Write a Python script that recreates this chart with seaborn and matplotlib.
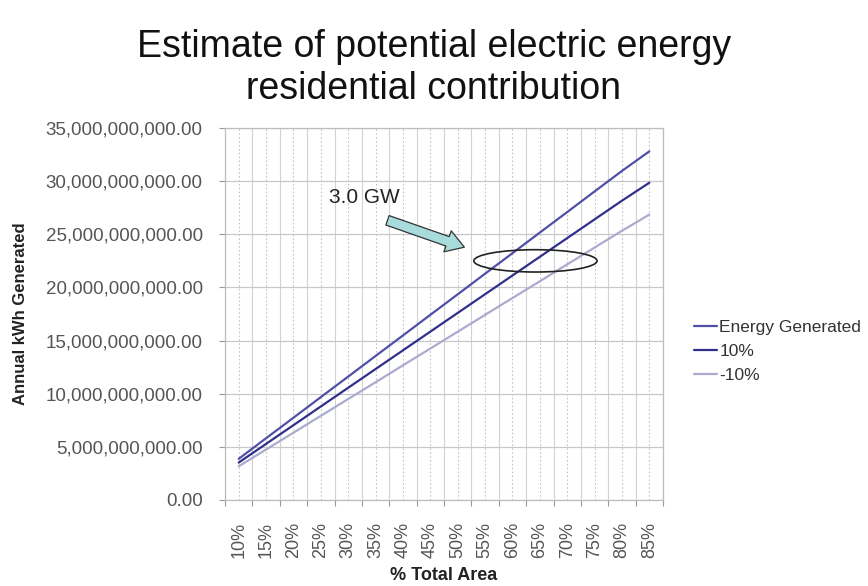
import matplotlib
matplotlib.use("Agg")
import matplotlib.pyplot as plt
import matplotlib.patches as mpatches
from matplotlib.ticker import FuncFormatter, MultipleLocator, FixedLocator
import numpy as np
import pandas as pd
import seaborn as sns

# Share of total roof area used
area_labels = ["10%", "15%", "20%", "25%", "30%", "35%", "40%", "45%",
               "50%", "55%", "60%", "65%", "70%", "75%", "80%", "85%"]

# Annual kWh generated for each scenario
energy_generated = [3.87e9, 5.81e9, 7.74e9, 9.68e9, 11.61e9, 13.55e9, 15.48e9, 17.42e9,
                    19.35e9, 21.29e9, 23.22e9, 25.16e9, 27.09e9, 29.03e9, 30.96e9, 32.80e9]
plus_10 = [3.52e9, 5.28e9, 7.04e9, 8.80e9, 10.56e9, 12.32e9, 14.08e9, 15.84e9,
           17.60e9, 19.36e9, 21.12e9, 22.88e9, 24.64e9, 26.40e9, 28.16e9, 29.85e9]
minus_10 = [3.17e9, 4.75e9, 6.33e9, 7.92e9, 9.50e9, 11.08e9, 12.67e9, 14.25e9,
            15.83e9, 17.42e9, 19.00e9, 20.58e9, 22.17e9, 23.75e9, 25.33e9, 26.85e9]

series_names = ["Energy Generated", "10%", "-10%"]
series_colors = ["#5050a8", "#30308c", "#ababd0"]

# Highlighted region around 3.0 GW
callout_text = "3.0 GW"
callout_level = 22.5e9

df = pd.concat([
    pd.DataFrame({"area": area_labels, "kwh": vals, "series": name})
    for name, vals in zip(series_names, [energy_generated, plus_10, minus_10])
], ignore_index=True)

sns.set_style("white")
plt.rcParams["font.family"] = ["Liberation Sans", "DejaVu Sans"]

fig = plt.figure(figsize=(8.68, 5.86), dpi=100)
ax = fig.add_axes([225 / 868, 1 - 500 / 586, 438 / 868, 372 / 586])

sns.lineplot(data=df, x="area", y="kwh", hue="series", hue_order=series_names,
             palette=dict(zip(series_names, series_colors)), sort=False,
             linewidth=1.6, ax=ax)

n = len(area_labels)
ax.set_xlim(-0.5, n - 0.5)
ax.set_ylim(0, 35e9)

# grid: light solid lines at category edges, dotted at category centers
for i in range(n + 1):
    ax.axvline(i - 0.5, color="#d2d2d2", lw=0.8, zorder=0)
for i in range(n):
    ax.axvline(i, color="#c4c4c4", lw=0.8, ls=(0, (1.5, 2)), zorder=0)
ax.yaxis.set_major_locator(MultipleLocator(5e9))
ax.grid(axis="y", color="#c8c8c8", lw=0.9, zorder=0)
ax.grid(axis="x", visible=False)
ax.set_axisbelow(True)

ax.yaxis.set_major_formatter(FuncFormatter(lambda v, _: f"{v:,.2f}"))
ax.tick_params(axis="y", labelsize=13.5, labelcolor="#555555", length=4,
               color="#999999", width=0.8, pad=12, left=True)
ax.set_xticks(range(n))
ax.set_xticklabels(area_labels, rotation=90)
ax.xaxis.set_minor_locator(FixedLocator(np.arange(-0.5, n, 1)))
ax.tick_params(axis="x", which="major", labelsize=13, labelcolor="#555555",
               length=0, pad=16)
ax.tick_params(axis="x", which="minor", length=4, color="#999999", width=0.8,
               bottom=True)

for side in ["left", "right", "top", "bottom"]:
    ax.spines[side].set_color("#bdbdbd")
    ax.spines[side].set_linewidth(0.9)

ax.set_xlabel("% Total Area", fontsize=13, fontweight="bold", color="#222222",
              labelpad=6)
ax.set_ylabel("Annual kWh Generated", fontsize=12, fontweight="bold",
              color="#222222", labelpad=13)

fig.suptitle("Estimate of potential electric energy\nresidential contribution",
             fontsize=27, y=0.95, color="#111111", linespacing=1.2)

# callout: ellipse, arrow and label
ax.add_patch(mpatches.Ellipse((10.84, callout_level), width=4.5, height=2.1e9,
                              fill=False, edgecolor="#222222", lw=1.2, zorder=5))
arrow = mpatches.FancyArrowPatch(
    (5.34, 26.4e9), (8.34, 23.7e9),
    arrowstyle=mpatches.ArrowStyle.Simple(head_length=0.8, head_width=1.0,
                                          tail_width=0.45),
    mutation_scale=16, facecolor="#a8dcdc", edgecolor="#333333", lw=0.9,
    zorder=6)
ax.add_patch(arrow)
ax.text(3.3, 28.5e9, callout_text, fontsize=15, color="#222222",
        va="center", ha="left", zorder=6)

sns.move_legend(ax, "upper left", bbox_to_anchor=(1.035, 0.525), frameon=False,
                title=None, fontsize=12.5, handlelength=1.3, handletextpad=0.15,
                labelspacing=0.5, labelcolor="#333333")

fig.savefig("out.png", dpi=100)
